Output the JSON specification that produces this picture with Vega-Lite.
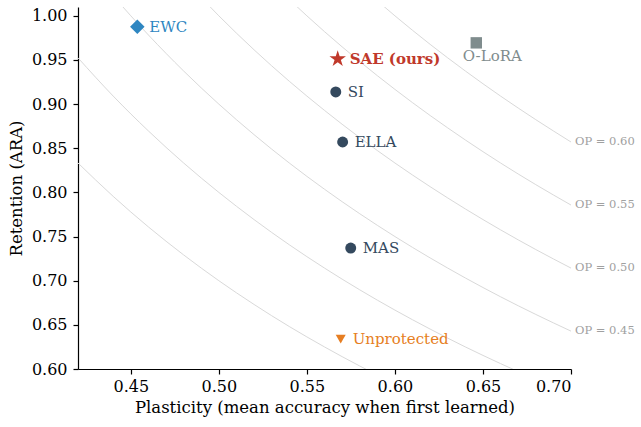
{
  "$schema": "https://vega.github.io/schema/vega-lite/v6.json",
  "width": 493,
  "height": 362,
  "autosize": {"type": "none"},
  "padding": {"left": 78, "top": 7, "right": 70, "bottom": 58},
  "config": {
    "view": {"stroke": null},
    "font": "DejaVu Serif",
    "text": {"font": "DejaVu Serif"},
    "axis": {
      "grid": false,
      "domainColor": "#000000",
      "domainWidth": 1.2,
      "tickColor": "#000000",
      "tickWidth": 1.2,
      "tickSize": 5,
      "labelColor": "#000000",
      "titleColor": "#000000",
      "labelFont": "DejaVu Serif",
      "titleFont": "DejaVu Serif",
      "labelFontSize": 16,
      "titleFontSize": 16.5,
      "titleFontWeight": "normal"
    }
  },
  "datasets": {
    "curves": [
      {"op": 0.35, "p": 0.42, "r": 0.8333}, {"op": 0.35, "p": 0.44, "r": 0.7955}, {"op": 0.35, "p": 0.46, "r": 0.7609}, {"op": 0.35, "p": 0.48, "r": 0.7292}, {"op": 0.35, "p": 0.50, "r": 0.70}, {"op": 0.35, "p": 0.52, "r": 0.6731}, {"op": 0.35, "p": 0.54, "r": 0.6481}, {"op": 0.35, "p": 0.56, "r": 0.625}, {"op": 0.35, "p": 0.58, "r": 0.6034}, {"op": 0.35, "p": 0.60, "r": 0.5833},
      {"op": 0.40, "p": 0.42, "r": 0.9524}, {"op": 0.40, "p": 0.44, "r": 0.9091}, {"op": 0.40, "p": 0.46, "r": 0.8696}, {"op": 0.40, "p": 0.48, "r": 0.8333}, {"op": 0.40, "p": 0.50, "r": 0.80}, {"op": 0.40, "p": 0.52, "r": 0.7692}, {"op": 0.40, "p": 0.54, "r": 0.7407}, {"op": 0.40, "p": 0.56, "r": 0.7143}, {"op": 0.40, "p": 0.58, "r": 0.6897}, {"op": 0.40, "p": 0.60, "r": 0.6667}, {"op": 0.40, "p": 0.62, "r": 0.6452}, {"op": 0.40, "p": 0.64, "r": 0.625}, {"op": 0.40, "p": 0.66, "r": 0.6061}, {"op": 0.40, "p": 0.68, "r": 0.5882},
      {"op": 0.45, "p": 0.43, "r": 1.0465}, {"op": 0.45, "p": 0.44, "r": 1.0227}, {"op": 0.45, "p": 0.46, "r": 0.9783}, {"op": 0.45, "p": 0.48, "r": 0.9375}, {"op": 0.45, "p": 0.50, "r": 0.90}, {"op": 0.45, "p": 0.52, "r": 0.8654}, {"op": 0.45, "p": 0.54, "r": 0.8333}, {"op": 0.45, "p": 0.56, "r": 0.8036}, {"op": 0.45, "p": 0.58, "r": 0.7759}, {"op": 0.45, "p": 0.60, "r": 0.75}, {"op": 0.45, "p": 0.62, "r": 0.7258}, {"op": 0.45, "p": 0.64, "r": 0.7031}, {"op": 0.45, "p": 0.66, "r": 0.6818}, {"op": 0.45, "p": 0.68, "r": 0.6618}, {"op": 0.45, "p": 0.70, "r": 0.6429},
      {"op": 0.50, "p": 0.48, "r": 1.0417}, {"op": 0.50, "p": 0.50, "r": 1.0}, {"op": 0.50, "p": 0.52, "r": 0.9615}, {"op": 0.50, "p": 0.54, "r": 0.9259}, {"op": 0.50, "p": 0.56, "r": 0.8929}, {"op": 0.50, "p": 0.58, "r": 0.8621}, {"op": 0.50, "p": 0.60, "r": 0.8333}, {"op": 0.50, "p": 0.62, "r": 0.8065}, {"op": 0.50, "p": 0.64, "r": 0.7813}, {"op": 0.50, "p": 0.66, "r": 0.7576}, {"op": 0.50, "p": 0.68, "r": 0.7353}, {"op": 0.50, "p": 0.70, "r": 0.7143},
      {"op": 0.55, "p": 0.53, "r": 1.0377}, {"op": 0.55, "p": 0.54, "r": 1.0185}, {"op": 0.55, "p": 0.56, "r": 0.9821}, {"op": 0.55, "p": 0.58, "r": 0.9483}, {"op": 0.55, "p": 0.60, "r": 0.9167}, {"op": 0.55, "p": 0.62, "r": 0.8871}, {"op": 0.55, "p": 0.64, "r": 0.8594}, {"op": 0.55, "p": 0.66, "r": 0.8333}, {"op": 0.55, "p": 0.68, "r": 0.8088}, {"op": 0.55, "p": 0.70, "r": 0.7857},
      {"op": 0.60, "p": 0.58, "r": 1.0345}, {"op": 0.60, "p": 0.60, "r": 1.0}, {"op": 0.60, "p": 0.62, "r": 0.9677}, {"op": 0.60, "p": 0.64, "r": 0.9375}, {"op": 0.60, "p": 0.66, "r": 0.9091}, {"op": 0.60, "p": 0.68, "r": 0.8824}, {"op": 0.60, "p": 0.70, "r": 0.8571}
    ],
    "oplabels": [
      {"label": "OP = 0.45", "p": 0.70, "r": 0.6429},
      {"label": "OP = 0.50", "p": 0.70, "r": 0.7143},
      {"label": "OP = 0.55", "p": 0.70, "r": 0.7857},
      {"label": "OP = 0.60", "p": 0.70, "r": 0.8571}
    ],
    "methods": [
      {"method": "EWC", "p": 0.4537, "r": 0.9875},
      {"method": "SAE (ours)", "p": 0.5675, "r": 0.9512},
      {"method": "O-LoRA", "p": 0.6462, "r": 0.9694},
      {"method": "SI", "p": 0.5664, "r": 0.9138},
      {"method": "ELLA", "p": 0.5703, "r": 0.8571},
      {"method": "MAS", "p": 0.5749, "r": 0.737},
      {"method": "Unprotected", "p": 0.5692, "r": 0.6338}
    ]
  },
  "encoding": {
    "x": {
      "field": "p", "type": "quantitative",
      "scale": {"domain": [0.42, 0.70], "nice": false, "zero": false},
      "axis": {"values": [0.45, 0.5, 0.55, 0.6, 0.65, 0.7], "format": ".2f", "labelPadding": 4, "title": "Plasticity (mean accuracy when first learned)", "titlePadding": 5}
    },
    "y": {
      "field": "r", "type": "quantitative",
      "scale": {"domain": [0.6, 1.01], "nice": false, "zero": false},
      "axis": {"values": [0.6, 0.65, 0.7, 0.75, 0.8, 0.85, 0.9, 0.95, 1.0], "format": ".2f", "labelPadding": 6, "title": "Retention (ARA)", "titlePadding": 7}
    }
  },
  "layer": [
    {
      "data": {"name": "curves"},
      "mark": {"type": "line", "color": "#d9d9d9", "strokeWidth": 1, "interpolate": "monotone", "clip": true},
      "encoding": {"detail": {"field": "op", "type": "nominal"}}
    },
    {
      "data": {"name": "oplabels"},
      "mark": {"type": "text", "align": "left", "baseline": "middle", "dx": 4, "fontSize": 11.5, "color": "#a0a0a0"},
      "encoding": {"text": {"field": "label"}}
    },
    {
      "data": {"name": "methods"},
      "mark": {"type": "point", "filled": true, "opacity": 1},
      "encoding": {
        "color": {"field": "method", "type": "nominal", "legend": null,
          "scale": {"domain": ["EWC", "SAE (ours)", "O-LoRA", "SI", "ELLA", "MAS", "Unprotected"],
                    "range": ["#2e86c1", "#c0392b", "#7f8c8d", "#34495e", "#34495e", "#34495e", "#e67e22"]}},
        "shape": {"field": "method", "type": "nominal", "legend": null,
          "scale": {"domain": ["EWC", "SAE (ours)", "O-LoRA", "SI", "ELLA", "MAS", "Unprotected"],
                    "range": ["diamond", "M0,-1L0.2245,-0.309L0.9511,-0.309L0.3633,0.118L0.5878,0.809L0,0.382L-0.5878,0.809L-0.3633,0.118L-0.9511,-0.309L-0.2245,-0.309Z", "square", "circle", "circle", "circle", "triangle-down"]}},
        "size": {"field": "method", "type": "nominal", "legend": null,
          "scale": {"type": "ordinal", "domain": ["EWC", "SAE (ours)", "O-LoRA", "SI", "ELLA", "MAS", "Unprotected"],
                    "range": [210, 300, 130, 120, 120, 120, 100]}}
      }
    },
    {
      "data": {"name": "methods"},
      "transform": [{"filter": "datum.method !== 'O-LoRA' && datum.method !== 'SAE (ours)'"}],
      "mark": {"type": "text", "align": "left", "baseline": "middle", "dx": 12, "fontSize": 15},
      "encoding": {
        "text": {"field": "method"},
        "color": {"field": "method", "type": "nominal", "legend": null}
      }
    },
    {
      "data": {"name": "methods"},
      "transform": [{"filter": "datum.method === 'SAE (ours)'"}],
      "mark": {"type": "text", "align": "left", "baseline": "middle", "dx": 12, "fontSize": 15, "fontWeight": "bold"},
      "encoding": {
        "text": {"field": "method"},
        "color": {"field": "method", "type": "nominal", "legend": null}
      }
    },
    {
      "data": {"name": "methods"},
      "transform": [{"filter": "datum.method === 'O-LoRA'"}],
      "mark": {"type": "text", "align": "center", "baseline": "middle", "dx": 16, "dy": 13, "fontSize": 15},
      "encoding": {
        "text": {"field": "method"},
        "color": {"field": "method", "type": "nominal", "legend": null}
      }
    }
  ]
}
